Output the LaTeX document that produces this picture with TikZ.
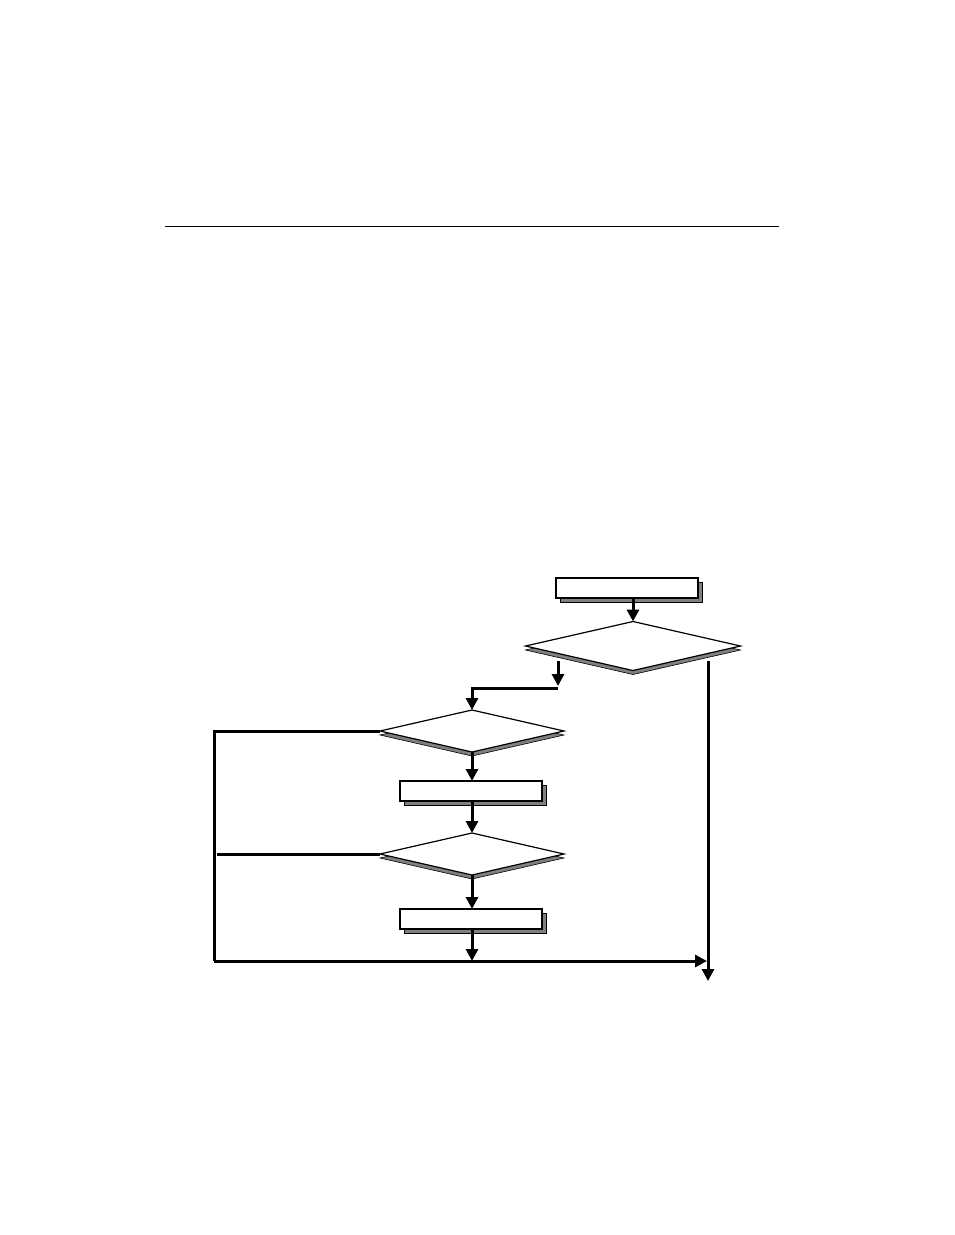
\documentclass[tikz,border=0pt]{standalone}
\usepackage{tikz}
\usetikzlibrary{positioning,shapes.geometric,shadows,arrows.meta}

\begin{document}
\begin{tikzpicture}[
   x=1pt, y=-1pt,
   every node/.append style={inner sep=0pt, outer sep=0pt},
   procbox/.style={draw, fill=white, line width=1.2pt, minimum width=142pt, minimum height=20pt,
     general shadow={shadow xshift=4pt, shadow yshift=-4pt, fill=gray, draw=black, line width=1pt}},
   testbox/.style={diamond, draw, fill=white, line width=1.2pt,
     general shadow={shadow yshift=-4pt, fill=gray, draw=black, line width=0.6pt}},
   flow/.style={line width=3pt, -{Triangle[length=12pt,width=12pt]}},
   plain/.style={line width=3pt}
]
\useasboundingbox (0,0) rectangle (954,1235);

% rule
\draw[line width=1pt] (165,226) -- (779,226);

% chart
\node[procbox] (start) at (627,588) {};
\node[testbox, minimum width=215pt, minimum height=49pt] (outer) at (633,646) {};
\node[testbox, minimum width=184pt, minimum height=42pt] (first) at (472,731) {};
\node[procbox] (body) at (471,791) {};
\node[testbox, minimum width=184pt, minimum height=42pt] (second) at (472,854) {};
\node[procbox] (last) at (471,919) {};

\coordinate (yesout) at (558,661);
\coordinate (yesbend) at (558,688);
\coordinate (noout) at (708,661);
\coordinate (noend) at (708,981);
\coordinate (loopup) at (214,731);
\coordinate (loopdown) at (214,961);
\coordinate (join) at (472,961);
\coordinate (joinend) at (707,961);
\coordinate (skipin) at (217,854);

\draw[flow] (start.south -| outer.north) -- (outer.north);
\draw[flow] (yesout) -- ([yshift=2pt]yesbend);
\draw[flow, rounded corners=0pt] (yesbend) -| (first.north);
\draw[flow] (first.south) -- (body.north -| first.south);
\draw[flow] (body.south -| second.north) -- (second.north);
\draw[flow] (second.south) -- (last.north -| second.south);
\draw[flow] (last.south -| join) -- (join);
\draw[plain] (first.west) -- (loopup) -- (loopdown);
\draw[flow] (loopdown) -- (joinend);
\draw[plain] (skipin) -- (second.west);
\draw[flow] (noout) -- (noend);
\end{tikzpicture}
\end{document}
